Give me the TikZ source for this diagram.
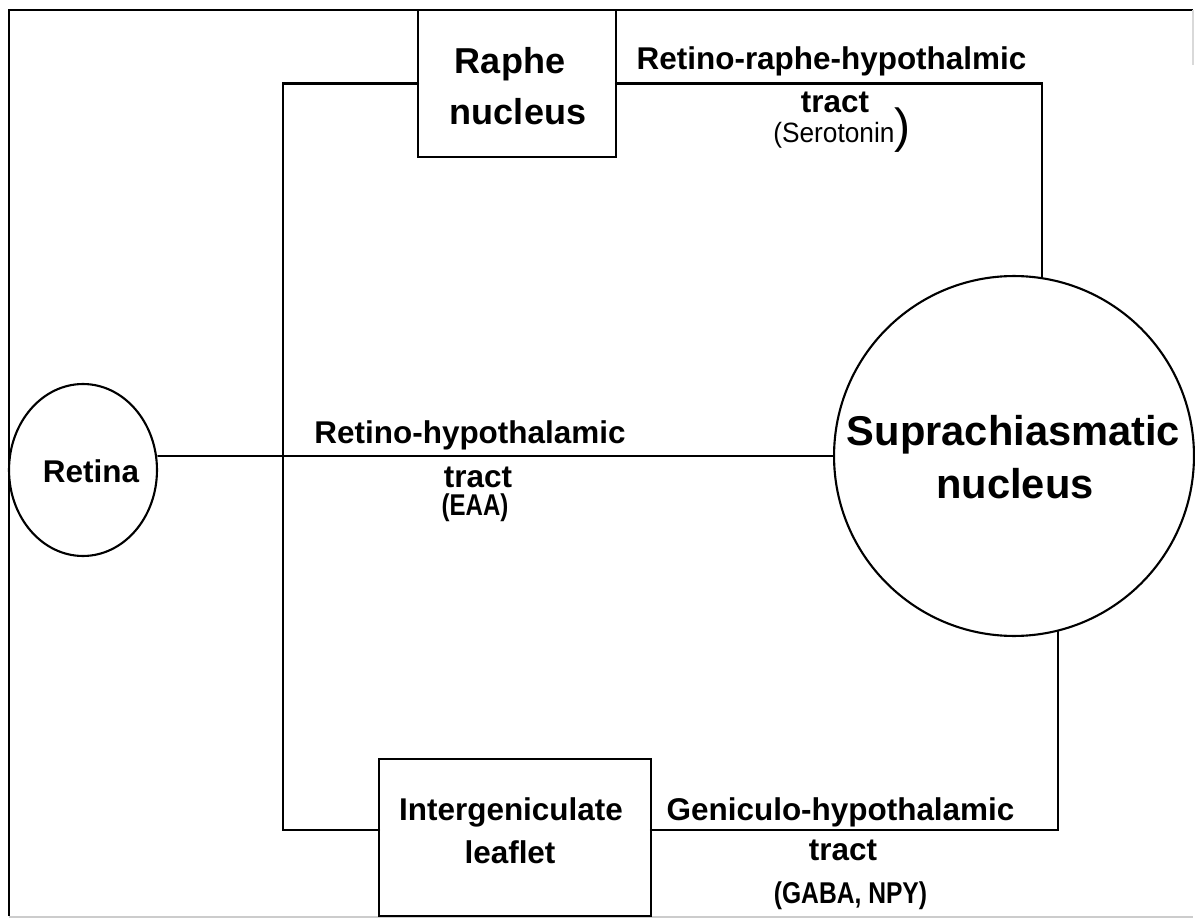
\documentclass[tikz,border=0pt]{standalone}
\usepackage{fontspec}
\setmainfont{Liberation Sans}
\usepackage{graphicx}
\usepackage{tikz}
\usetikzlibrary{
    shapes.geometric,
    calc
}

\newcommand\tractfont{\fontsize{17.9}{20}\selectfont\bfseries}
\newcommand\raphefont{\fontsize{20.5}{23}\selectfont\bfseries}
\newcommand\scnfont{\fontsize{23.7}{26}\selectfont\bfseries}
\newcommand\chemfont{\fontsize{17.1}{19}\selectfont\bfseries}
\newcommand\serofont{\fontsize{15.9}{18}\selectfont}
\newcommand\narrow[2][0.80]{\scalebox{#1}[1]{#2}}

\begin{document}
\begin{tikzpicture}[x=0.02cm, y=-0.02cm,
    tract/.style={
        black,
        line width=1.2pt,
        line cap=round,
        line join=miter
    },
    nucbox/.style={
        draw,
        line width=1.2pt,
        inner sep=0pt,
        outer sep=0pt
    },
    lbl/.style={
        font=\tractfont,
        anchor=base,
        inner sep=0pt
    }
]
\useasboundingbox (0,0) rectangle (1195,918);

% outer frame
\draw[line width=1.3pt] (9,916) -- (9,10) -- (1193,10);
\draw[gray!40, line width=0.8pt] (9,917) -- (1193,917);
\draw[gray!30, line width=0.6pt] (1193,10) -- (1193,65);

% nuclei
\node[
    ellipse,
    draw,
    line width=1.2pt,
    minimum width=2.96cm,
    minimum height=3.44cm,
    inner sep=0pt
] (retina) at (83,470) {};

\node[
    circle,
    draw,
    line width=1.2pt,
    minimum size=7.2cm,
    inner sep=0pt
] (scn) at (1014,456) {};

\node[nucbox, minimum width=3.96cm, minimum height=2.94cm]
(raphe) at (517,83.5) {};

\node[nucbox, minimum width=5.44cm, minimum height=3.14cm]
(igl) at (515,837.5) {};

\coordinate (trunk) at (283,0);

% tracts
\draw[tract] (retina.east |- scn.west) -- (scn.west);
\draw[tract] (raphe.west) -| (igl.177 -| trunk) -- (igl.177);
\draw[tract] (raphe.east) -| (scn.81);
\draw[tract] (igl.3) -| (scn.-76.5);

% labels
\node[lbl] (retinaTxt) at (91,482) {Retina};

\node[lbl, font=\raphefont] (rapheA) at (510,74) {Raphe};
\node[lbl, font=\raphefont] (rapheB) at (518,125) {nucleus};

\node[lbl, font=\scnfont] (scnA) at (1013.5,445) {Suprachiasmatic};
\node[lbl, font=\scnfont] (scnB) at (1015,498) {nucleus};

\node[lbl] (iglA) at (511,820) {Intergeniculate};
\node[lbl] (iglB) at (510,863) {leaflet};

\node[lbl] (rrhtA) at (831.5,70) {Retino-raphe-hypothalmic};
\node[lbl] (rrhtB) at (835,113) {tract};
\node[lbl, anchor=base west, font=\serofont] (rrhtC) at (773,143)
{\narrow[0.94]{(Serotonin}{\fontsize{27.3}{28}\selectfont )}};

\node[lbl] (rhtA) at (470,443) {Retino-hypothalamic};
\node[lbl] (rhtB) at (478,487) {tract};
\node[lbl, font=\chemfont] (rhtC) at (475,515) {\narrow{(EAA)}};

\node[lbl] (ghtA) at (840.5,820) {Geniculo-hypothalamic};
\node[lbl] (ghtB) at (843,860) {tract};
\node[lbl, font=\chemfont] (ghtC) at (850.5,903) {\narrow[0.82]{(GABA, NPY)}};
\end{tikzpicture}
\end{document}
